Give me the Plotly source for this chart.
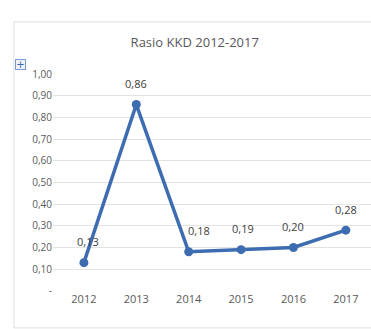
import plotly.graph_objects as go

years = ["2012", "2013", "2014", "2015", "2016", "2017"]
ratio = [0.13, 0.86, 0.18, 0.19, 0.20, 0.28]
y_tick_vals = [0, 0.1, 0.2, 0.3, 0.4, 0.5, 0.6, 0.7, 0.8, 0.9, 1.0]
y_tick_text = ["-", "0,10", "0,20", "0,30", "0,40", "0,50", "0,60", "0,70", "0,80", "0,90", "1,00"]
label_xshift = [4, 0, 10, 2, 0, 0]

FONT = "Liberation Sans Narrow, Open Sans, sans-serif"
GRAY = "#595959"
BLUE = "#3d6db0"

fig = go.Figure()
fig.add_trace(go.Scatter(
    x=list(range(len(years))), y=ratio, mode="lines+markers",
    line=dict(color=BLUE, width=3.5),
    marker=dict(color=BLUE, size=9),
    hoverinfo="skip", showlegend=False,
))

for i, v in enumerate(ratio):
    fig.add_annotation(
        x=i, y=v, text=f"{v:.2f}".replace(".", ","),
        showarrow=False, yshift=21, xshift=label_xshift[i],
        font=dict(family=FONT, size=11, color="#404040"),
    )

# chart border
fig.add_shape(type="rect", xref="paper", yref="paper",
              x0=-0.123, x1=1.02, y0=-0.17, y1=1.24,
              line=dict(color="#e0e0e0", width=1), layer="below")
# little "+" handle
fig.add_annotation(xref="paper", yref="paper", x=-0.118, y=1.07,
                   text="+", showarrow=False,
                   font=dict(size=10, color="#3d6db0", family="DejaVu Sans"),
                   bordercolor="#7a9cd0", borderwidth=1, borderpad=0,
                   bgcolor="#eef3fb", width=9, height=9)

fig.update_layout(
    width=371, height=329,
    margin=dict(l=53, r=0, t=74, b=38),
    paper_bgcolor="white", plot_bgcolor="white",
    title=dict(text="Rasio KKD 2012-2017", x=0.525, xanchor="center",
               y=0.872, yanchor="middle",
               font=dict(family=FONT, size=13, color=GRAY)),
    xaxis=dict(range=[-0.59, 5.48], tickvals=list(range(len(years))), ticktext=years,
               showgrid=False, zeroline=False, showline=False, ticks="",
               tickfont=dict(family=FONT, size=11, color=GRAY)),
    yaxis=dict(range=[0, 1.0], tickvals=y_tick_vals, ticktext=y_tick_text,
               showgrid=True, gridcolor="#e3e3e3", gridwidth=1,
               zeroline=False, showline=False, ticks="",
               tickfont=dict(family=FONT, size=10, color=GRAY)),
)
fig.update_yaxes(range=[-0.001, 1.001])

fig.write_html("out.html")
